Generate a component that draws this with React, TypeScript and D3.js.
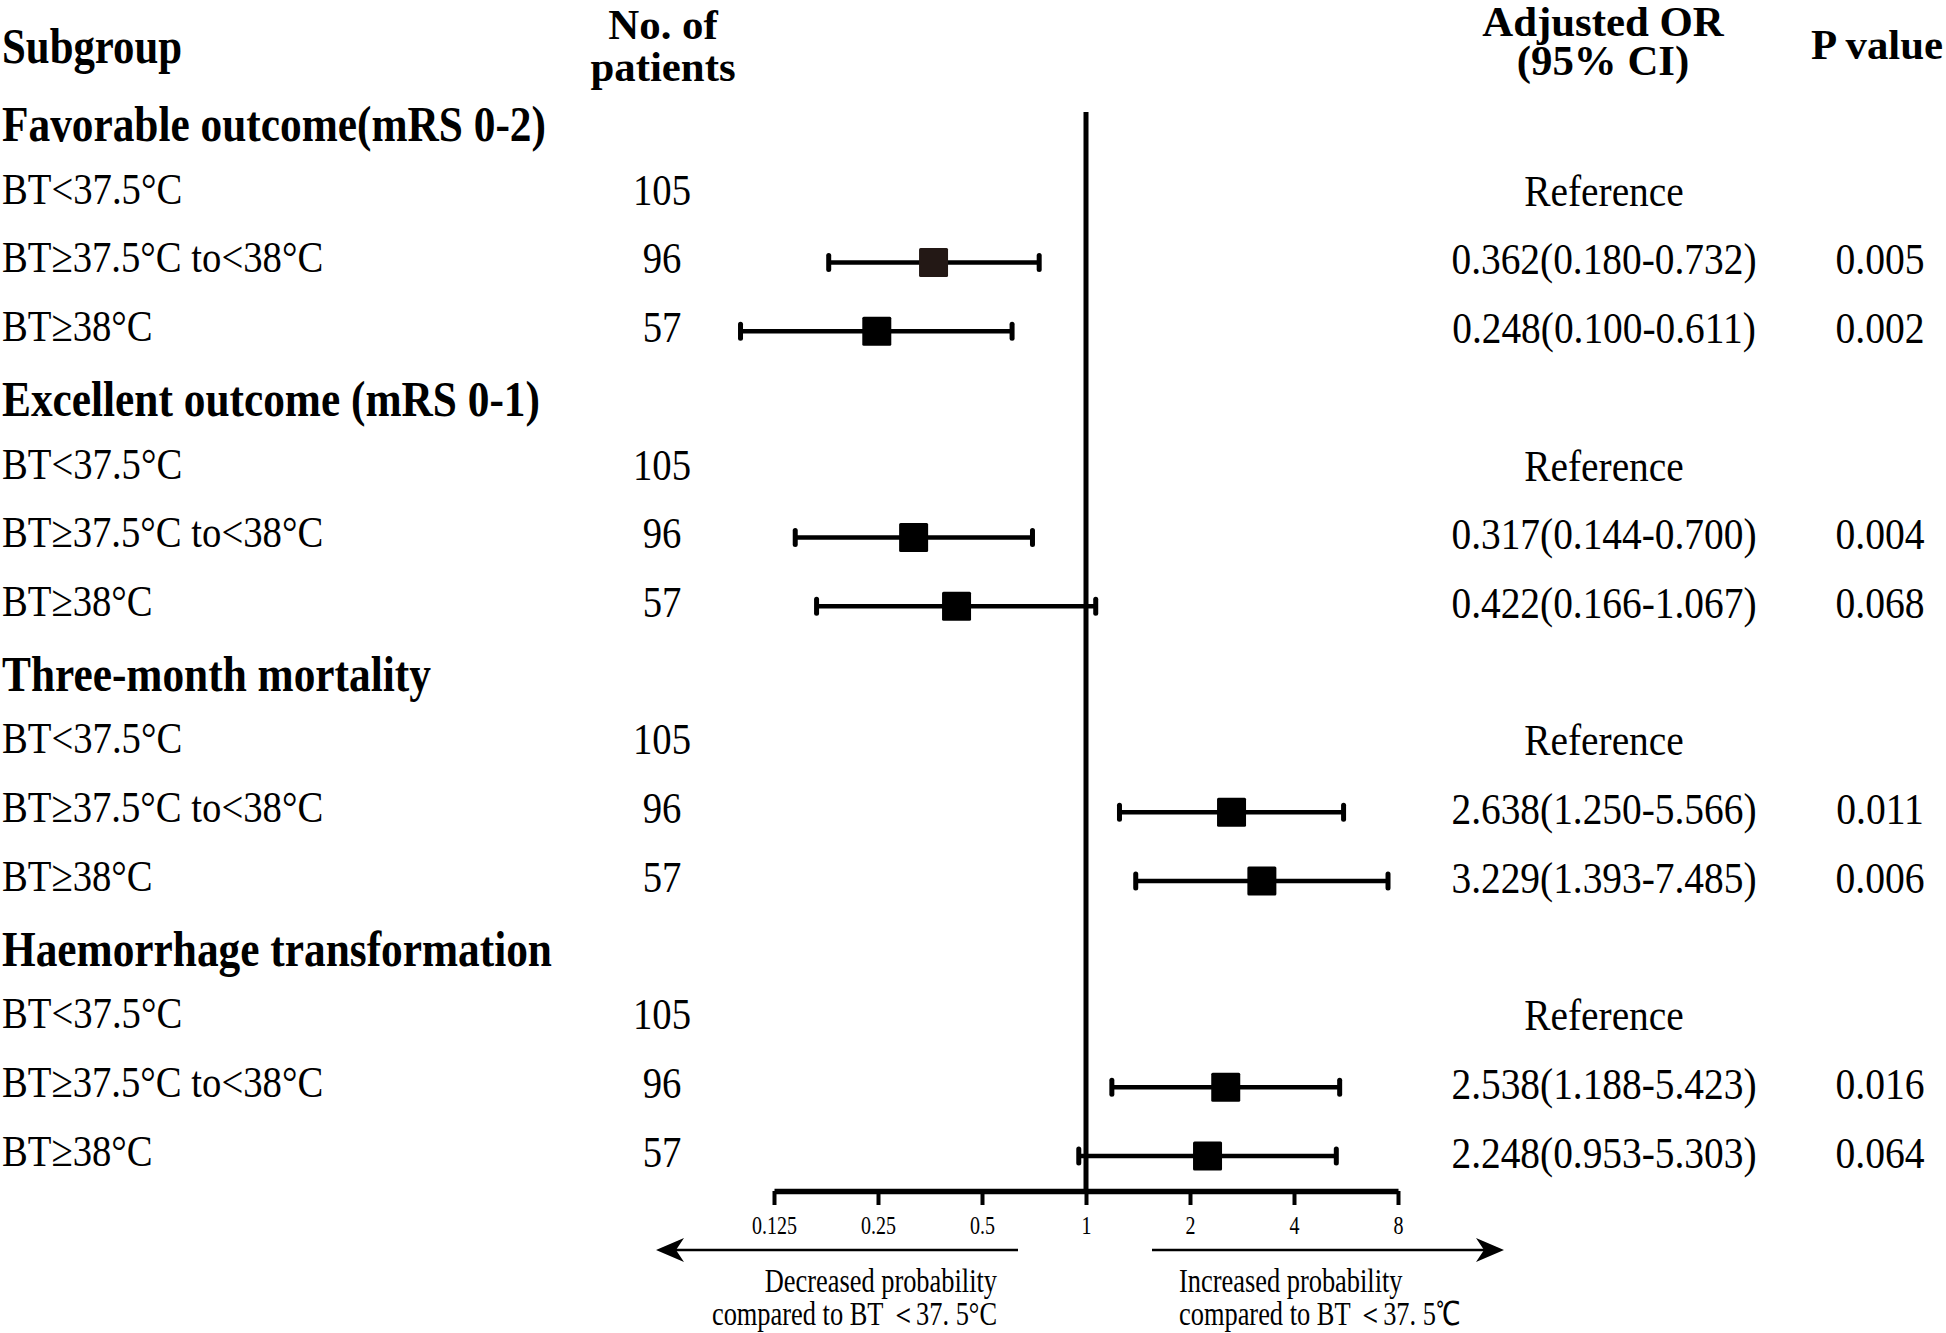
import { useEffect, useRef } from "react";
import * as d3 from "d3";

// ---- data ----
const groups = [
  "Favorable outcome(mRS 0-2)",
  "Excellent outcome (mRS 0-1)",
  "Three-month mortality",
  "Haemorrhage transformation",
];
const subgroups = ["BT<37.5°C", "BT≥37.5°C to<38°C", "BT≥38°C"];
const patients = [105, 96, 57];

// one entry per subgroup row (4 groups x 3 rows); null = reference category
const orValues = [null, 0.362, 0.248, null, 0.317, 0.422, null, 2.638, 3.229, null, 2.538, 2.248];
const ciLower = [null, 0.18, 0.1, null, 0.144, 0.166, null, 1.25, 1.393, null, 1.188, 0.953];
const ciUpper = [null, 0.732, 0.611, null, 0.7, 1.067, null, 5.566, 7.485, null, 5.423, 5.303];
const orLabels = [
  "Reference", "0.362(0.180-0.732)", "0.248(0.100-0.611)",
  "Reference", "0.317(0.144-0.700)", "0.422(0.166-1.067)",
  "Reference", "2.638(1.250-5.566)", "3.229(1.393-7.485)",
  "Reference", "2.538(1.188-5.423)", "2.248(0.953-5.303)",
];
const pValues = ["", "0.005", "0.002", "", "0.004", "0.068", "", "0.011", "0.006", "", "0.016", "0.064"];

const tickValues = [0.125, 0.25, 0.5, 1, 2, 4, 8];
const tickLabels = ["0.125", "0.25", "0.5", "1", "2", "4", "8"];

const App = () => {
  const svgRef = useRef(null);

  useEffect(() => {
    const width = 1946;
    const height = 1333;
    const font = "'Liberation Serif', 'Times New Roman', serif";
    const sx = 0.86; // the source type is horizontally condensed
    const regSize = 45;
    const boldSize = 51;
    const colSize = 42;

    d3.select(svgRef.current).selectAll("*").remove();

    const svg = d3
      .select(svgRef.current)
      .attr("width", width)
      .attr("height", height)
      .style("position", "absolute")
      .style("left", "0px")
      .style("top", "0px")
      .style("background", "#fff");

    const x = d3.scaleLog().base(2).domain([0.125, 8]).range([774, 1398]);

    // row layout: each group has a header row followed by 3 subgroup rows
    const rowIds = [];
    groups.forEach((g, gi) => {
      rowIds.push({ type: "header", label: g });
      subgroups.forEach((s, si) => rowIds.push({ type: "row", label: s, idx: gi * 3 + si, si }));
    });
    const y = d3.scalePoint().domain(d3.range(rowIds.length)).range([124, 1155]);

    const addText = (txt, cx, cy, size, opts = {}) => {
      const { bold = false, anchor = "start", scale = sx } = opts;
      svg
        .append("text")
        .attr("transform", `translate(${cx},${cy + size * 0.33}) scale(${scale},1)`)
        .attr("text-anchor", anchor)
        .attr("font-family", font)
        .attr("font-size", size)
        .attr("font-weight", bold ? "bold" : "normal")
        .attr("fill", "#000")
        .text(txt);
    };

    // column headers
    addText("Subgroup", 2, 46, boldSize, { bold: true, scale: 0.84 });
    addText("No. of", 663, 25, colSize, { bold: true, anchor: "middle", scale: 1.02 });
    addText("patients", 663, 67, colSize, { bold: true, anchor: "middle", scale: 1.02 });
    addText("Adjusted OR", 1603, 22, colSize, { bold: true, anchor: "middle", scale: 1.02 });
    addText("(95% CI)", 1603, 61, colSize, { bold: true, anchor: "middle", scale: 1.02 });
    addText("P value", 1877, 45, colSize, { bold: true, anchor: "middle", scale: 1.02 });

    // table rows
    rowIds.forEach((r, i) => {
      const cy = y(i);
      if (r.type === "header") {
        addText(r.label, 2, cy, boldSize, { bold: true, scale: 0.85 });
      } else {
        addText(r.label, 2, cy - 4, regSize);
        addText(String(patients[r.si]), 662, cy - 3, regSize, { anchor: "middle" });
        addText(orLabels[r.idx], 1604, cy - 2, regSize, { anchor: "middle", scale: 0.875 });
        if (pValues[r.idx]) addText(pValues[r.idx], 1880, cy - 2, regSize, { anchor: "middle", scale: 0.88 });
      }
    });

    // line of no effect
    svg
      .append("line")
      .attr("x1", x(1))
      .attr("x2", x(1))
      .attr("y1", 112)
      .attr("y2", 1191)
      .attr("stroke", "#000")
      .attr("stroke-width", 5);

    // CI lines, caps and boxes
    const est = rowIds.filter((r) => r.type === "row" && orValues[r.idx] != null);
    const g = svg.append("g");
    est.forEach((r) => {
      const i = rowIds.indexOf(r);
      const cy = y(i) + 1;
      const lo = x(ciLower[r.idx]);
      const hi = x(ciUpper[r.idx]);
      g.append("line")
        .attr("x1", lo)
        .attr("x2", hi)
        .attr("y1", cy)
        .attr("y2", cy)
        .attr("stroke", "#000")
        .attr("stroke-width", 4.5);
      [lo, hi].forEach((cx) =>
        g
          .append("line")
          .attr("x1", cx)
          .attr("x2", cx)
          .attr("y1", cy - 7)
          .attr("y2", cy + 7)
          .attr("stroke", "#000")
          .attr("stroke-width", 5)
          .attr("stroke-linecap", "round")
      );
      const b = 29;
      g.append("rect")
        .attr("x", x(orValues[r.idx]) - b / 2)
        .attr("y", cy - b / 2)
        .attr("width", b)
        .attr("height", b)
        .attr("rx", 1.5)
        .attr("fill", r.idx === 1 ? "#231815" : "#000");
    });

    // x axis
    const axis = svg
      .append("g")
      .attr("transform", "translate(0,1191)")
      .call(
        d3
          .axisBottom(x)
          .tickValues(tickValues)
          .tickFormat((d, i) => tickLabels[i])
          .tickSize(14)
          .tickSizeOuter(0)
      );
    axis.select(".domain").attr("stroke", "#000").attr("stroke-width", 5.5);
    axis.selectAll(".tick line").attr("stroke", "#000").attr("stroke-width", 4);
    axis
      .selectAll(".tick text")
      .attr("font-family", font)
      .attr("font-size", 25)
      .attr("fill", "#000")
      .attr("y", 25)
      .attr("dy", "0.71em")
      .attr("transform", "scale(0.8,1)")
      .attr("x", 0);

    // direction arrows
    const ay = 1250;
    const arrow = (x1, x2) => {
      const dir = Math.sign(x2 - x1);
      svg
        .append("line")
        .attr("x1", x1)
        .attr("x2", x2 - dir * 14)
        .attr("y1", ay)
        .attr("y2", ay)
        .attr("stroke", "#000")
        .attr("stroke-width", 2.5);
      svg
        .append("path")
        .attr(
          "d",
          `M${x2},${ay} L${x2 - dir * 28},${ay - 12} L${x2 - dir * 20},${ay} L${x2 - dir * 28},${ay + 12} Z`
        )
        .attr("fill", "#000");
    };
    arrow(1018, 656);
    arrow(1152, 1504);

    addText("Decreased probability", 997, 1281, 33, { anchor: "end", scale: 0.8 });
    addText("compared to BT ＜37. 5°C", 997, 1314, 33, { anchor: "end", scale: 0.8 });
    addText("Increased probability", 1179, 1281, 33, { scale: 0.8 });
    addText("compared to BT ＜37. 5℃", 1179, 1314, 33, { scale: 0.8 });
  }, []);

  return <svg ref={svgRef}></svg>;
};

export default App;
